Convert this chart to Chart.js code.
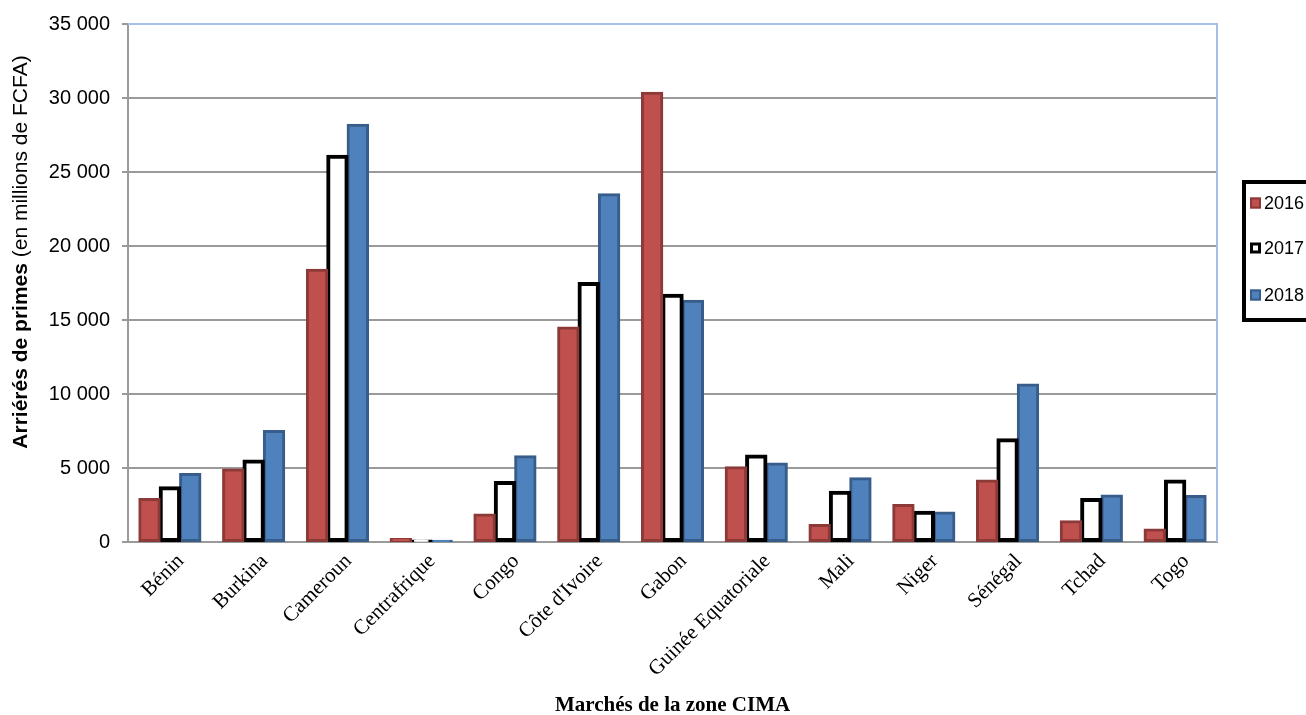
<!DOCTYPE html>
<html>
<head>
<meta charset="utf-8">
<script src="https://cdn.jsdelivr.net/npm/chart.js@4/dist/chart.umd.min.js"></script>
<style>
html,body{margin:0;padding:0;background:#fff;}
#wrap{width:1306px;height:715px;position:relative;}
</style>
</head>
<body>
<div id="wrap"><canvas id="c" width="1306" height="715"></canvas></div>
<script>
const categories = ['Bénin','Burkina','Cameroun','Centrafrique','Congo',"Côte d'Ivoire",'Gabon','Guinée Equatoriale','Mali','Niger','Sénégal','Tchad','Togo'];
const seriesNames = ['2016','2017','2018'];
const values2016 = [2900, 4900, 18400, 200, 1850, 14500, 30350, 5050, 1150, 2500, 4150, 1400, 850];
const values2017 = [3700, 5500, 26100, 100, 4050, 17500, 16700, 5850, 3400, 2050, 6950, 2900, 4150];
const values2018 = [4600, 7500, 28200, 80, 5800, 23500, 16300, 5300, 4300, 2000, 10650, 3150, 3100];
const yTicks = [0, 5000, 10000, 15000, 20000, 25000, 30000, 35000];
const yTitleBold = 'Arriérés de primes';
const yTitleNormal = ' (en millions de FCFA)';
const xTitle = 'Marchés de la zone CIMA';

const fills = ['#C0504D', '#FFFFFF', '#4F81BD'];
const borders = ['#8C3A38', '#000000', '#385D8A'];

function fmt(v){ return String(v).replace(/\B(?=(\d{3})+(?!\d))/g, ' '); }

const extras = {
  id: 'extras',
  afterDraw(chart){
    const ctx = chart.ctx;
    const a = chart.chartArea;
    ctx.save();
    ctx.strokeStyle = '#A7BFE6';
    ctx.lineWidth = 2;
    ctx.beginPath();
    ctx.moveTo(a.left, a.top);
    ctx.lineTo(a.right, a.top);
    ctx.lineTo(a.right, a.bottom);
    ctx.stroke();
    ctx.translate(21, 252);
    ctx.rotate(-Math.PI/2);
    ctx.textBaseline = 'middle';
    ctx.fillStyle = '#000';
    const fb = 'bold 21px "Liberation Sans", Arial, sans-serif';
    const fn = '21px "Liberation Sans", Arial, sans-serif';
    ctx.font = fb; const wb = ctx.measureText(yTitleBold).width;
    ctx.font = fn; const wn = ctx.measureText(yTitleNormal).width;
    let x0 = -(wb + wn)/2;
    ctx.font = fb; ctx.textAlign = 'left'; ctx.fillText(yTitleBold, x0, 0);
    ctx.font = fn; ctx.fillText(yTitleNormal, x0 + wb, 0);
    ctx.restore();
    ctx.save();
    ctx.strokeStyle = '#000';
    ctx.lineWidth = 4;
    ctx.strokeRect(1244, 182, 80, 138);
    const ys = [203, 248, 295];
    ctx.font = '18px "Liberation Sans", Arial, sans-serif';
    ctx.textBaseline = 'middle';
    ctx.textAlign = 'left';
    seriesNames.forEach((n, i) => {
      const sx = 1250, sy = ys[i] - 5.5;
      ctx.fillStyle = fills[i];
      ctx.fillRect(sx, sy, 11, 11);
      ctx.strokeStyle = borders[i];
      const lw = i === 1 ? 3 : 2;
      ctx.lineWidth = lw;
      ctx.strokeRect(sx + lw/2, sy + lw/2, 11 - lw, 11 - lw);
      ctx.fillStyle = '#000';
      ctx.fillText(n, 1264, ys[i] + 1);
    });
    ctx.restore();
  }
};

const ds = [values2016, values2017, values2018].map((vals, i) => ({
  label: seriesNames[i],
  data: vals,
  backgroundColor: fills[i],
  borderColor: borders[i],
  borderWidth: i === 1 ? 4 : 3,
  borderSkipped: false,
  inflateAmount: 1,
  categoryPercentage: 0.73,
  barPercentage: 1.0
}));

new Chart(document.getElementById('c'), {
  type: 'bar',
  data: { labels: categories, datasets: ds },
  plugins: [extras],
  options: {
    responsive: false,
    animation: false,
    layout: { padding: { top: 24, right: 89, left: 0, bottom: 0 } },
    plugins: { legend: { display: false }, tooltip: { enabled: false } },
    scales: {
      x: {
        grid: { display: false, drawTicks: false },
        border: { color: '#9A9A9A', width: 2 },
        ticks: {
          autoSkip: false, minRotation: 45, maxRotation: 45, padding: 7,
          labelOffset: 11,
          color: '#000',
          font: { family: '"Liberation Serif", "Times New Roman", serif', size: 21 }
        },
        title: {
          display: true, text: xTitle, color: '#000',
          font: { family: '"Liberation Serif", "Times New Roman", serif', size: 21, weight: 'bold' },
          padding: { top: 0, bottom: -3 }
        },
        afterFit(s){ s.height = 173; }
      },
      y: {
        min: 0, max: 35000,
        afterBuildTicks(s){ s.ticks = yTicks.map(v => ({ value: v })); },
        grid: {
          color: (c) => c.tick && c.tick.value === 35000 ? 'rgba(0,0,0,0)' : '#9A9A9A',
          lineWidth: 2,
          tickColor: '#9A9A9A',
          tickLength: 6
        },
        border: { color: '#9A9A9A', width: 2 },
        ticks: {
          color: '#000', padding: 12,
          font: { family: '"Liberation Sans", Arial, sans-serif', size: 20 },
          callback: (v) => fmt(v)
        },
        afterFit(s){ s.width = 128; }
      }
    }
  }
});
</script>
</body>
</html>
